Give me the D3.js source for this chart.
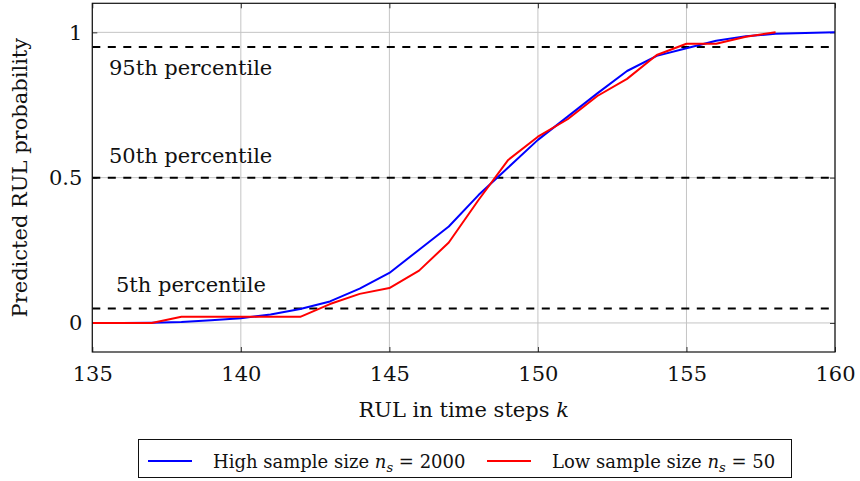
<!DOCTYPE html>
<html>
<head>
<meta charset="utf-8">
<script src="https://cdn.jsdelivr.net/npm/d3@7"></script>
<style>
  html, body { margin: 0; padding: 0; background: #fff; }
  svg { display: block; font-family: "DejaVu Serif", serif; }
</style>
</head>
<body>
<svg id="chart" width="860" height="481"></svg>
<script>
// RUL time steps k
const stepsHigh = d3.range(135, 161);
const stepsLow = d3.range(135, 159);

// Predicted cumulative RUL probability, n_s = 2000
const probHigh = [0, 0, 0.001, 0.003, 0.009, 0.016, 0.029, 0.048, 0.074, 0.118,
  0.172, 0.252, 0.332, 0.44, 0.535, 0.63, 0.71, 0.79, 0.867, 0.919,
  0.945, 0.971, 0.987, 0.995, 0.998, 1.0];

// Predicted cumulative RUL probability, n_s = 50
const probLow = [0, 0, 0, 0.021, 0.021, 0.021, 0.021, 0.021, 0.065, 0.10,
  0.12, 0.18, 0.277, 0.423, 0.561, 0.641, 0.701, 0.781, 0.84, 0.922,
  0.961, 0.961, 0.985, 1.0];

// Percentile reference levels
const percentileLevels = [0.95, 0.5, 0.05];
const percentileNames = ["95th percentile", "50th percentile", "5th percentile"];

const xTicks = [135, 140, 145, 150, 155, 160];
const yTicks = [0, 0.5, 1];
const yTickLabels = ["0", "0.5", "1"];

const svg = d3.select("#chart");
const plotL = 92.3, plotR = 835, plotT = 3.3, plotB = 352;

const x = d3.scaleLinear().domain([135, 160]).range([plotL, plotR]);
const y = d3.scaleLinear().domain([-0.1, 1.1]).range([plotB, plotT]);

// grid
const grid = svg.append("g").attr("stroke", "#c4c4c4").attr("stroke-width", 1);
grid.selectAll("line.gx").data(xTicks).join("line")
  .attr("x1", d => x(d)).attr("x2", d => x(d))
  .attr("y1", plotT).attr("y2", plotB);
grid.selectAll("line.gy").data(yTicks).join("line")
  .attr("y1", d => y(d)).attr("y2", d => y(d))
  .attr("x1", plotL).attr("x2", plotR);

// axes with inward ticks on all four sides
const tickLen = 5;
const xAxisB = d3.axisBottom(x).tickValues(xTicks).tickFormat(d3.format("d"))
  .tickSizeInner(-tickLen).tickSizeOuter(0).tickPadding(14);
const xAxisT = d3.axisTop(x).tickValues(xTicks).tickFormat("")
  .tickSizeInner(-tickLen).tickSizeOuter(0);
const yAxisL = d3.axisLeft(y).tickValues(yTicks).tickFormat((d, i) => yTickLabels[i])
  .tickSizeInner(-tickLen).tickSizeOuter(0).tickPadding(10);
const yAxisR = d3.axisRight(y).tickValues(yTicks).tickFormat("")
  .tickSizeInner(-tickLen).tickSizeOuter(0);

function styleAxis(g) {
  g.select(".domain").remove();
  g.selectAll(".tick line").attr("stroke", "#333").attr("stroke-width", 1);
  g.selectAll(".tick text").attr("fill", "#111")
    .style("font-family", "'DejaVu Serif', serif").style("font-size", "21px");
}
svg.append("g").attr("transform", `translate(0,${plotB})`).call(xAxisB).call(styleAxis);
svg.append("g").attr("transform", `translate(0,${plotT})`).call(xAxisT).call(styleAxis);
svg.append("g").attr("transform", `translate(${plotL},0)`).call(yAxisL).call(styleAxis);
svg.append("g").attr("transform", `translate(${plotR},0)`).call(yAxisR).call(styleAxis);

// percentile lines
svg.append("g").selectAll("line").data(percentileLevels).join("line")
  .attr("x1", plotL).attr("x2", plotR)
  .attr("y1", d => y(d)).attr("y2", d => y(d))
  .attr("stroke", "#000").attr("stroke-width", 2)
  .attr("stroke-dasharray", "8,7.5");

// percentile labels
const labelX = [109, 109, 116];
const labelDy = [28, -15, -16];
svg.append("g").selectAll("text").data(percentileLevels).join("text")
  .attr("x", (d, i) => labelX[i])
  .attr("y", (d, i) => y(d) + labelDy[i])
  .attr("font-size", 21).attr("fill", "#111")
  .text((d, i) => percentileNames[i]);

// curves
const line = d3.line().x(d => x(d[0])).y(d => y(d[1]));
svg.append("path").datum(d3.zip(stepsHigh, probHigh))
  .attr("d", line).attr("fill", "none")
  .attr("stroke", "#0000ff").attr("stroke-width", 2).attr("stroke-linejoin", "round");
svg.append("path").datum(d3.zip(stepsLow, probLow))
  .attr("d", line).attr("fill", "none")
  .attr("stroke", "#ff0000").attr("stroke-width", 2).attr("stroke-linejoin", "round");

// frame
svg.append("rect").attr("x", plotL).attr("y", plotT)
  .attr("width", plotR - plotL).attr("height", plotB - plotT)
  .attr("fill", "none").attr("stroke", "#111").attr("stroke-width", 1.2);

// axis titles
const xt = svg.append("text").attr("x", (plotL + plotR) / 2).attr("y", 417)
  .attr("text-anchor", "middle").attr("font-size", 21).attr("fill", "#111");
xt.append("tspan").text("RUL in time steps ");
xt.append("tspan").attr("font-style", "italic").text("k");

svg.append("text")
  .attr("transform", `translate(27,${(plotT + plotB) / 2}) rotate(-90)`)
  .attr("text-anchor", "middle").attr("font-size", 21).attr("fill", "#111")
  .text("Predicted RUL probability");

// legend
const legend = svg.append("g");
legend.append("rect").attr("x", 138.5).attr("y", 439.5)
  .attr("width", 653).attr("height", 38)
  .attr("fill", "#fff").attr("stroke", "#111").attr("stroke-width", 1);

const legendItems = [
  { color: "#0000ff", label: "High sample size ", n: "2000", x0: 148 },
  { color: "#ff0000", label: "Low sample size ", n: "50", x0: 487 }
];
legendItems.forEach(it => {
  legend.append("line").attr("x1", it.x0).attr("x2", it.x0 + 44)
    .attr("y1", 461).attr("y2", 461)
    .attr("stroke", it.color).attr("stroke-width", 2);
  const t = legend.append("text").attr("x", it.x0 + 65).attr("y", 468)
    .attr("font-size", 18).attr("fill", "#111");
  t.append("tspan").text(it.label);
  t.append("tspan").attr("font-style", "italic").text("n");
  t.append("tspan").attr("font-style", "italic").attr("font-size", 13).attr("dy", 4).text("s");
  t.append("tspan").attr("dy", -4).text(" = " + it.n);
});
</script>
</body>
</html>
